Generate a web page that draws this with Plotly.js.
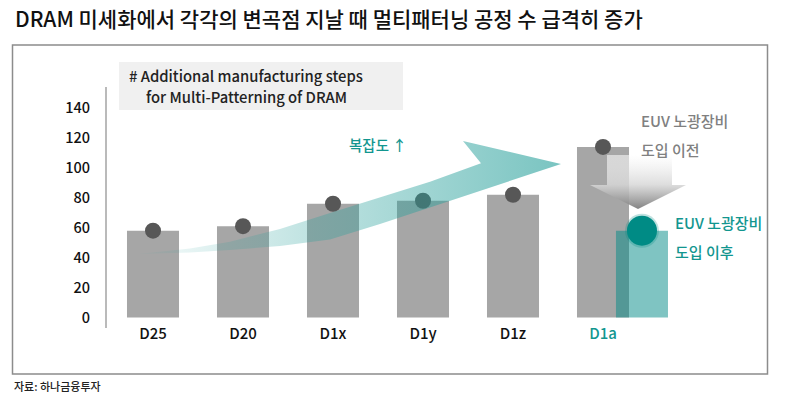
<!DOCTYPE html>
<html><head><meta charset="utf-8">
<script src="https://cdn.plot.ly/plotly-3.0.1.min.js"></script>
<style>html,body{margin:0;padding:0;background:#fff}#chart{width:785px;height:398px}</style>
</head><body><div id="chart"></div>
<script>
// ---- data ----
const categories = ['D25', 'D20', 'D1x', 'D1y', 'D1z', 'D1a'];
const steps = [58, 61, 76, 78, 82, 114];
const euvCategory = 'D1a';
const euvSteps = [58];
const yTicks = [0, 20, 40, 60, 80, 100, 120, 140];

// ---- styling / layout helpers ----
const W = 785, H = 398;
const FONT = '"Noto Sans CJK KR", "Noto Sans", sans-serif';
const TEAL = '#12968f';
const xs = categories.map((_, i) => i);
const euvX = [categories.indexOf(euvCategory) + 0.433];
const tickText = categories.map(c => c === euvCategory ? '<span style="color:' + TEAL + '">' + c + '</span>' : c);

// decorative arrow outlines (pixel space of overlay axes)
const arrowX = [138, 190, 230, 280, 330, 380, 430, 481, 463, 561, 500, 430, 380, 330, 280, 230, 190, 138];
const arrowY = [254, 248.5, 241.7, 229, 213, 197.5, 181.7, 163.3, 141, 164, 184, 207, 224, 239.5, 246, 250, 252.5, 254];
const downX = [607, 672, 672, 686, 638, 590, 607, 607];
const downY = [155, 155, 185, 185, 209, 185, 185, 155];

const traces = [
  { type: 'bar', x: xs, y: steps, width: 0.578, marker: { color: '#a6a6a6' }, hoverinfo: 'skip', xaxis: 'x', yaxis: 'y' },
  { type: 'bar', x: euvX, y: euvSteps, width: 0.578, marker: { color: 'rgba(0,138,133,0.5)' }, hoverinfo: 'skip', xaxis: 'x', yaxis: 'y' },
  { type: 'scatter', mode: 'markers', x: xs, y: steps, marker: { size: 16, color: '#575757' }, hoverinfo: 'skip', cliponaxis: false, xaxis: 'x', yaxis: 'y' },
  { type: 'scatter', mode: 'markers', x: euvX, y: euvSteps, marker: { size: 34, color: 'rgba(0,139,133,0.25)' }, hoverinfo: 'skip', cliponaxis: false, xaxis: 'x', yaxis: 'y' },
  { type: 'scatter', mode: 'markers', x: euvX, y: euvSteps, marker: { size: 30, color: '#008b85' }, hoverinfo: 'skip', cliponaxis: false, xaxis: 'x', yaxis: 'y' },
  { type: 'scatter', mode: 'lines', x: arrowX, y: arrowY, fill: 'toself', line: { width: 0, color: 'rgba(0,0,0,0)' },
    fillgradient: { type: 'horizontal', start: 138, stop: 561,
      colorscale: [[0, 'rgba(40,160,155,0.04)'], [0.45, 'rgba(40,160,155,0.32)'], [1, 'rgba(40,160,155,0.62)']] },
    hoverinfo: 'skip', xaxis: 'x2', yaxis: 'y2' },
  { type: 'scatter', mode: 'lines', x: downX, y: downY, fill: 'toself', line: { width: 0, color: 'rgba(0,0,0,0)' },
    fillgradient: { type: 'vertical', start: 155, stop: 209,
      colorscale: [[0, 'rgba(255,255,255,0.55)'], [0.55, 'rgba(215,215,215,0.85)'], [1, 'rgba(125,125,125,0.95)']] },
    hoverinfo: 'skip', xaxis: 'x2', yaxis: 'y2' }
];

function ann(text, x, y, size, color, weight) {
  return { text: text, x: x, y: y, xref: 'x2', yref: 'y2', xanchor: 'left', yanchor: 'middle',
           showarrow: false, font: { family: FONT, size: size, color: color, weight: weight || 500 } };
}

const layout = {
  width: W, height: H,
  margin: { l: 0, r: 0, t: 0, b: 0 },
  paper_bgcolor: '#ffffff', plot_bgcolor: 'rgba(0,0,0,0)',
  showlegend: false, barmode: 'overlay',
  font: { family: FONT, size: 15, color: '#111' },
  xaxis: { type: 'linear', domain: [106 / W, 700 / W], range: [-0.5222, 6.0778], anchor: 'free', position: (H - 318) / H,
           tickvals: xs, ticktext: tickText, showgrid: false, zeroline: false, showline: false, ticks: '', ticklabelstandoff: 5,
           tickfont: { family: FONT, size: 15, color: '#111', weight: 500 }, fixedrange: true },
  yaxis: { domain: [70 / H, 311 / H], range: [-7, 154], tickvals: yTicks, showgrid: false, zeroline: false, showline: false,
           ticks: '', ticklabelstandoff: 15, tickfont: { family: FONT, size: 14.5, color: '#111', weight: 500 }, fixedrange: true },
  xaxis2: { domain: [0, 1], range: [0, W], visible: false, anchor: 'y2', fixedrange: true },
  yaxis2: { domain: [0, 1], range: [H, 0], visible: false, anchor: 'x2', fixedrange: true },
  shapes: [
    { type: 'rect', xref: 'x2', yref: 'y2', x0: 12.5, x1: 767.5, y0: 45, y1: 374, line: { color: '#8c8c8c', width: 1.5 }, layer: 'below' },
    { type: 'rect', xref: 'x2', yref: 'y2', x0: 119, x1: 403, y0: 62, y1: 110, fillcolor: '#f0f0f0', line: { width: 0 }, layer: 'below' },
    { type: 'line', xref: 'x2', yref: 'y2', x0: 106, x1: 106, y0: 87, y1: 328, line: { color: '#a3a3a3', width: 1.5 }, layer: 'below' }
  ],
  annotations: [
    ann('DRAM 미세화에서 각각의 변곡점 지날 때 멀티패터닝 공정 수 급격히 증가', 13, 18, 21, '#111'),
    ann('# Additional manufacturing steps', 127, 75, 14.8, '#222'),
    ann('for Multi-Patterning of DRAM', 144, 96, 14.8, '#222'),
    ann('복잡도 ↑', 347, 144, 14.5, TEAL),
    ann('EUV 노광장비', 639, 120, 15, '#808080'),
    ann('도입 이전', 639, 149, 15, '#808080'),
    ann('EUV 노광장비', 673, 222, 15, TEAL),
    ann('도입 이후', 673, 251, 15, TEAL),
    ann('자료: 하나금융투자', 12, 386, 11, '#222')
  ]
};

Plotly.newPlot('chart', traces, layout, { staticPlot: true, displayModeBar: false });
</script></body></html>
